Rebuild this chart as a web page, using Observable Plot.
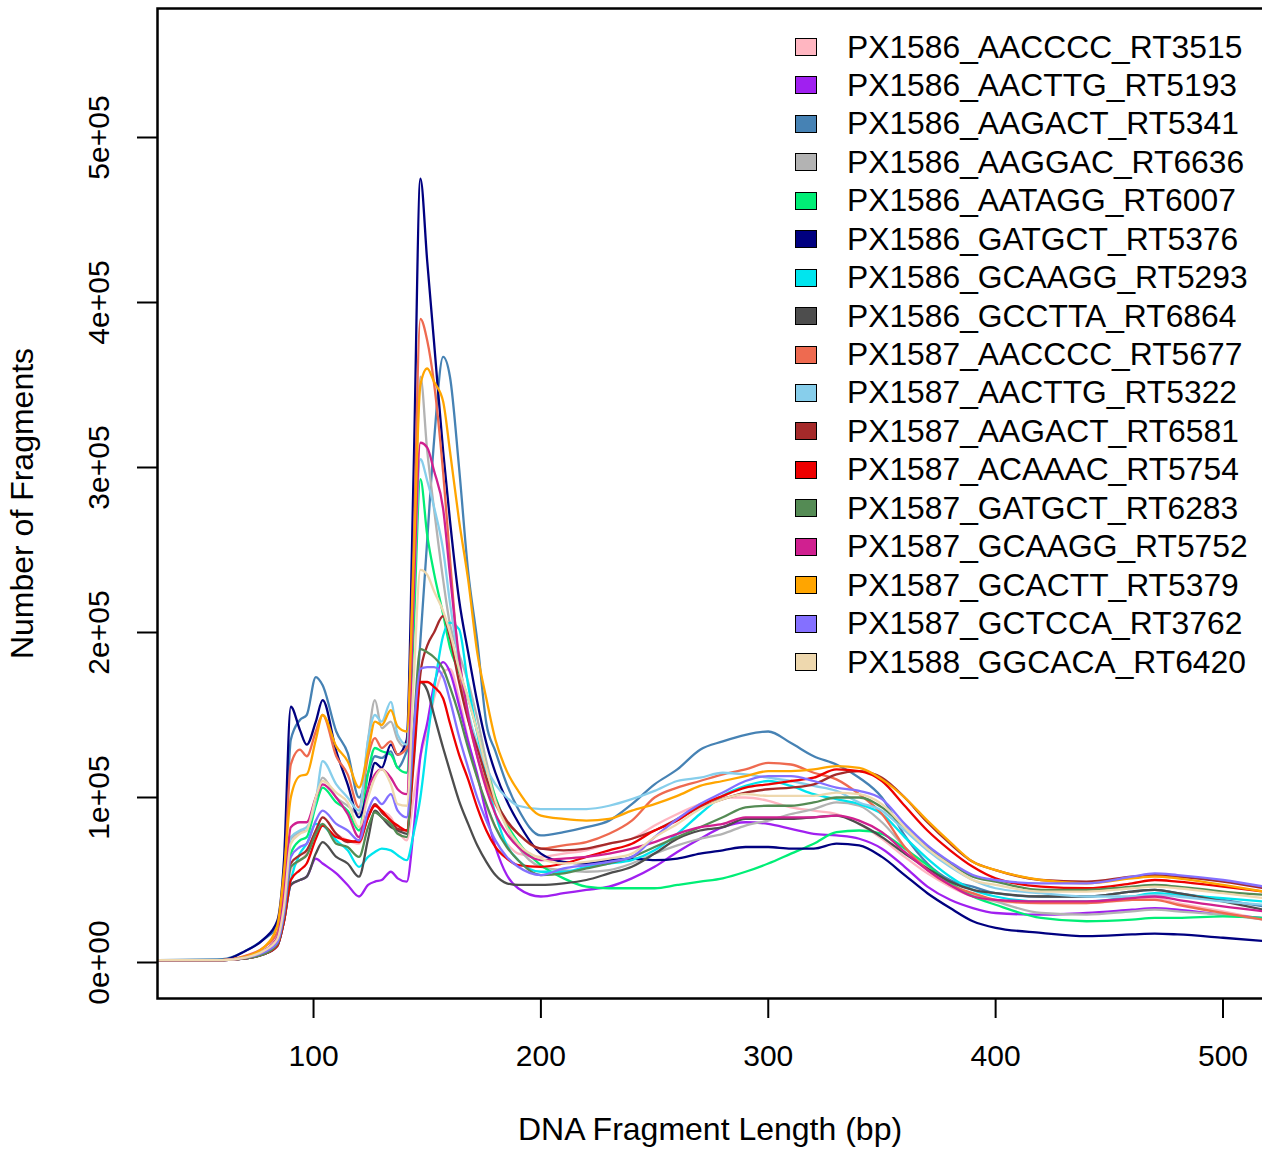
<!DOCTYPE html>
<html>
<head>
<meta charset="utf-8">
<script src="https://cdn.jsdelivr.net/npm/d3@7"></script>
<script src="https://cdn.jsdelivr.net/npm/@observablehq/plot@0.6"></script>
<style>
  html, body { margin: 0; padding: 0; background: white; overflow: hidden; }
  #wrap { position: relative; width: 1262px; height: 1151px; overflow: hidden; }
  #wrap svg { max-width: none !important; width: 1270px; height: 1151px; display: block; }
  #legend { position: absolute; left: 795px; top: 27.8px; font-family: "Liberation Sans", Arial, Helvetica, sans-serif; font-size: 31.8px; color: #000; }
  .row { height: 38.44px; display: flex; align-items: center; white-space: nowrap; }
  .box { width: 20px; height: 16px; border: 1.6px solid #000; margin-right: 30px; flex: none; }
</style>
</head>
<body>
<div id="wrap"><div id="legend"></div></div>
<script>
// Fragment length grid (bp)
const lengths = [32,60,70,78,84,87,90,94,97,101,104,110,115,120,124,127,130,134,137,141,144,147,150,153,157,160,164,168,172,176,180,185,190,200,210,220,230,240,250,260,270,280,290,300,310,320,330,340,350,360,370,380,390,400,420,440,460,470,480,500,518];

// Sample names and colours (legend order)
const sampleNames = [
  "PX1586_AACCCC_RT3515","PX1586_AACTTG_RT5193","PX1586_AAGACT_RT5341","PX1586_AAGGAC_RT6636",
  "PX1586_AATAGG_RT6007","PX1586_GATGCT_RT5376","PX1586_GCAAGG_RT5293","PX1586_GCCTTA_RT6864",
  "PX1587_AACCCC_RT5677","PX1587_AACTTG_RT5322","PX1587_AAGACT_RT6581","PX1587_ACAAAC_RT5754",
  "PX1587_GATGCT_RT6283","PX1587_GCAAGG_RT5752","PX1587_GCACTT_RT5379","PX1587_GCTCCA_RT3762",
  "PX1588_GGCACA_RT6420"
];
const sampleColors = ["#FFB6C1","#A020F0","#4682B4","#B3B3B3","#00EE76","#000080","#00E5EE","#4D4D4D",
  "#EE6A50","#87CEEB","#A52A2A","#EE0000","#548B54","#D02090","#FFA500","#8470FF","#EED8AE"];

// Number of fragments, thousands
const px1586_AACCCC = [1.5,1.5,2.5,5,11,28,56,62,66,80,88,78,74,72,88,96,92,88,80,74,100,125,140,160,176,178,160,135,112,95,82,72,66,64,66,68,72,75,83,90,96,100,100,98,94,92,90,84,75,64,54,46,40,37,36,36,38,39,36,31,26];
const px1586_AACTTG = [1.5,1.5,2.5,5,10,25,47,50,52,63,60,54,47,40,47,49,50,55,51,49,80,125,145,168,182,176,156,134,114,90,70,53,45,40,42,44,46,51,58,67,75,82,85,84,81,78,77,75,69,58,46,38,33,30,29,30,32,33,32,29,27];
const px1586_AAGACT = [1.5,2,7,14,22,50,135,147,150,173,168,140,127,100,115,125,124,128,118,128,140,195,256,316,367,355,300,237,195,145,128,108,93,77,79,82,86,96,108,117,129,134,138,140,133,125,120,112,100,77,60,50,46,42,40,40,43,44,42,38,34];
const px1586_AAGGAC = [1.5,1.5,3,7,14,35,75,79,80,100,112,100,95,90,135,159,142,146,135,130,230,355,310,275,232,205,187,170,148,122,100,82,70,58,56,55,56,60,66,71,75,78,83,86,90,93,97,95,85,70,57,48,41,37,30,29,31,32,31,29,26];
const px1586_AATAGG = [1.5,1.5,3,6,12,30,66,74,76,95,106,97,92,80,115,130,128,126,118,115,200,293,259,236,211,191,176,160,140,118,100,84,73,59,51,46,45,45,45,47,49,51,55,60,66,72,79,80,78,69,59,48,40,35,27,25,26,27,27,28,27];
const px1586_GATGCT = [1.5,1.5,7,14,25,62,155,141,132,146,159,128,108,88,105,121,118,132,126,135,296,475,425,376,310,268,220,188,158,133,115,98,85,66,61,60,62,63,62,63,66,68,70,70,69,69,72,71,64,53,42,33,25,21,18,16,17,17.5,17,15,13];
const px1586_GCAAGG = [1.5,1.5,2.5,5,10,25,50,66,72,84,83,74,68,58,64,67,69,68,65,62,78,100,134,165,198,206,202,168,139,112,90,71,62,55,55,58,60,62,68,78,90,101,107,110,107,102,99,96,90,76,63,52,44,40,37,37,40,42,41,39,37];
const px1586_GCCTTA = [1.5,1.5,2.5,5,10,25,47,50,52,66,73,64,60,52,75,92,88,82,80,78,130,170,165,150,130,116,98,84,71,61,53,48,47,47,48,50,54,58,66,75,80,82,87,87,87,88,89,84,76,66,57,49,44,42,40,40,43,44,42,37,32];
const px1587_AACCCC = [1.5,1.5,4,9,18,48,120,129,125,140,150,125,114,94,125,136,130,134,126,130,250,390,377,351,297,245,180,148,125,108,96,85,78,69,71,73,78,86,100,106,110,114,117,121,120,115,111,102,90,70,56,47,42,38,36,36,38,38,35,30,26];
const px1587_AACTTG = [1.5,1.5,3,7,15,38,76,80,82,98,122,108,100,92,135,150,146,158,138,132,220,305,292,276,250,218,182,152,132,118,108,100,95,93,93,93,95,99,104,110,112,115,114,112,110,107,104,97,92,80,68,58,50,45,42,40,40,41,40,37,35];
const px1587_AAGACT = [1.5,1.5,3,6,12,30,60,65,68,80,88,78,73,74,88,96,91,86,81,80,120,175,192,200,210,197,170,147,130,112,98,86,78,69,68,69,72,75,80,87,94,99,103,105,106,108,114,116,112,100,85,72,61,56,50,49,52,53,52,49,45];
const px1587_ACAAAC = [1.5,1.5,2.5,5,10,25,50,56,60,75,83,76,74,73,88,95,92,86,83,80,125,170,170,167,160,145,126,111,94,80,70,63,59,58,60,64,68,72,80,86,95,101,106,108,110,112,117,116,110,95,80,68,58,51,46,45,48,50,49,46,43];
const px1587_GATGCT = [1.5,1.5,2.5,5,11,28,58,62,65,78,84,72,70,64,82,91,88,84,78,76,140,190,188,185,178,167,150,130,112,96,82,70,62,53,54,57,60,64,70,76,82,88,94,95,95,97,100,100,94,82,70,60,52,49,44,44,46,47,46,43,41];
const px1587_GCAAGG = [1.5,1.5,3,7,15,40,82,85,85,100,108,100,90,76,105,114,117,112,105,102,220,315,312,298,275,235,185,150,125,105,90,78,70,62,63,64,66,69,73,78,82,84,88,88,88,88,89,86,79,67,56,47,40,38,37,37,39,40,38,34,31];
const px1587_GCACTT = [1.5,1.5,3.5,9,22,55,100,113,114,135,150,131,122,106,128,146,144,153,143,140,240,350,360,352,340,310,268,232,188,160,135,116,104,89,87,86,87,92,96,101,107,110,113,116,116,117,119,118,111,100,86,73,61,56,50,48,51,52,51,47,43];
const px1587_GCTCCA = [1.5,1.5,3,6,12,30,64,70,72,86,92,84,80,74,92,100,96,102,92,88,140,178,179,179,173,159,137,118,100,86,74,64,58,53,57,59,61,64,76,87,96,103,110,113,113,110,106,104,99,84,71,61,53,50,48,48,52,54,53,50,46];
const px1588_GGCACA = [1.5,1.5,3,7,14,34,72,78,80,100,110,103,97,82,100,112,117,108,96,95,170,238,235,225,213,200,178,160,140,118,98,82,72,63,60,61,63,66,76,84,93,99,102,101,101,101,103,102,96,82,69,59,50,47,43,43,45,46,45,42,39];

const seriesValues = [px1586_AACCCC, px1586_AACTTG, px1586_AAGACT, px1586_AAGGAC, px1586_AATAGG,
  px1586_GATGCT, px1586_GCAAGG, px1586_GCCTTA, px1587_AACCCC, px1587_AACTTG, px1587_AAGACT,
  px1587_ACAAAC, px1587_GATGCT, px1587_GCAAGG, px1587_GCACTT, px1587_GCTCCA, px1588_GGCACA];

const xTicks = [100, 200, 300, 400, 500];
const yTicks = [0, 100000, 200000, 300000, 400000, 500000];
const yTickLabels = ["0e+00", "1e+05", "2e+05", "3e+05", "4e+05", "5e+05"];
const xTitle = "DNA Fragment Length (bp)";
const yTitle = "Number of Fragments";

const rows = [];
sampleNames.forEach((name, s) => {
  seriesValues[s].forEach((v, i) => rows.push({sample: name, bp: lengths[i], count: v * 1000}));
});

const font = "'Liberation Sans', Arial, Helvetica, sans-serif";
const chart = Plot.plot({
  width: 1270,
  height: 1151,
  marginLeft: 157,
  marginRight: 0,
  marginTop: 8,
  marginBottom: 153,
  style: {fontFamily: font, background: "white", color: "black", maxWidth: "none"},
  x: {domain: [31.37, 520.9]},
  y: {domain: [-21818, 578182]},
  color: {domain: sampleNames, range: sampleColors},
  marks: [
    Plot.line(rows, {x: "bp", y: "count", z: "sample", stroke: "sample", strokeWidth: 2.3, curve: "monotone-x", clip: true}),
    Plot.frame({stroke: "black", strokeWidth: 2.5}),
    Plot.axisX({ticks: xTicks, tickSize: 20, tickPadding: 26, fontSize: 30, label: null, strokeWidth: 2}),
    Plot.axisY({ticks: yTicks, tickSize: 20, tickFormat: () => "", label: null, strokeWidth: 2}),
    Plot.text(yTicks, {y: d => d, text: (d, i) => yTickLabels[i], frameAnchor: "left", textAnchor: "middle", lineAnchor: "middle", dx: -58, rotate: -90, fontSize: 30}),
    Plot.text([xTitle], {text: d => d, frameAnchor: "bottom", textAnchor: "middle", lineAnchor: "middle", dy: 131, dx: -4, fontSize: 32}),
    Plot.text([yTitle], {text: d => d, frameAnchor: "left", textAnchor: "middle", lineAnchor: "middle", dx: -135, rotate: -90, fontSize: 32})
  ]
});
document.getElementById("wrap").prepend(chart);

const legend = document.getElementById("legend");
sampleNames.forEach((name, i) => {
  const row = document.createElement("div");
  row.className = "row";
  const box = document.createElement("div");
  box.className = "box";
  box.style.background = sampleColors[i];
  const label = document.createElement("span");
  label.textContent = name;
  row.appendChild(box);
  row.appendChild(label);
  legend.appendChild(row);
});
</script>
</body>
</html>
